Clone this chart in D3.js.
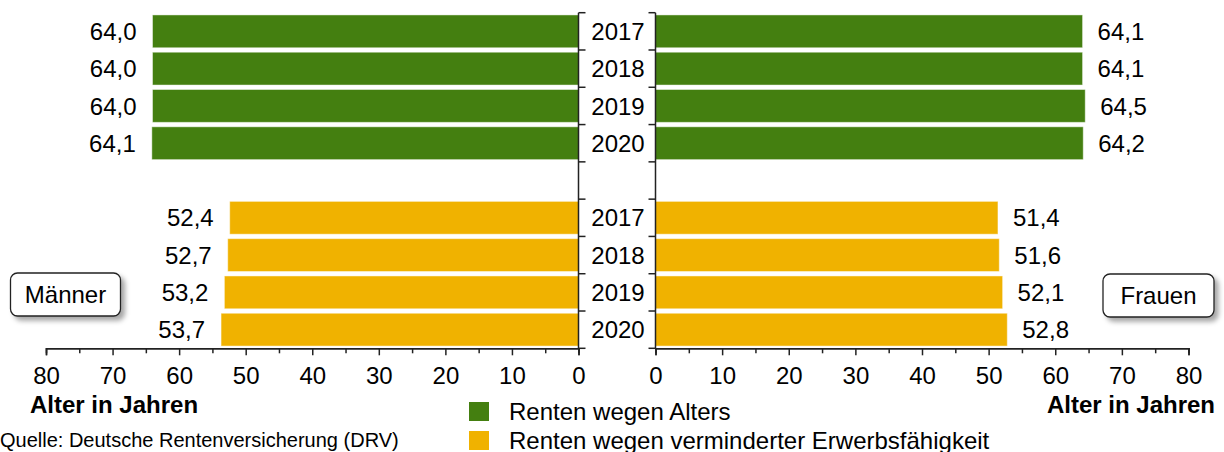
<!DOCTYPE html>
<html>
<head>
<meta charset="utf-8">
<script src="https://cdn.jsdelivr.net/npm/d3@7"></script>
<style>
  body { margin: 0; background: #fff; }
  svg { font-family: "Liberation Sans", Arial, sans-serif; }
</style>
</head>
<body>
<svg id="chart" width="1224" height="452"></svg>
<script>
// years per block
var years = ["2017", "2018", "2019", "2020"];

// men: pension because of age / reduced earning capacity
var menAlters = [64.0, 64.0, 64.0, 64.1];
var menEM = [52.4, 52.7, 53.2, 53.7];

// women
var womenAlters = [64.1, 64.1, 64.5, 64.2];
var womenEM = [51.4, 51.6, 52.1, 52.8];

var xTicks = [0, 10, 20, 30, 40, 50, 60, 70, 80];
var xMinorTicks = [5, 15, 25, 35, 45, 55, 65, 75];

var green = "#447f10";
var yellow = "#f0b200";
var fs = 24;

var svg = d3.select("#chart");

// shadow for the label boxes
var defs = svg.append("defs");
var filter = defs.append("filter").attr("id", "shadow")
  .attr("x", "-20%").attr("y", "-20%").attr("width", "150%").attr("height", "160%");
filter.append("feDropShadow").attr("dx", 4).attr("dy", 4)
  .attr("stdDeviation", 2.5).attr("flood-color", "#000").attr("flood-opacity", 0.35);

// rows: 4 green, a gap, 4 yellow
var rows = years.map(d => "A" + d).concat(["gap"]).concat(years.map(d => "E" + d));

var y = d3.scaleBand()
  .domain(rows)
  .range([12.7, 348.3])
  .paddingInner(0.12)
  .paddingOuter(0.06);

var xLeft = d3.scaleLinear().domain([80, 0]).range([46, 578.5]);
var xRight = d3.scaleLinear().domain([0, 80]).range([655.5, 1188.5]);

// build data rows
var leftData = years.map((yr, i) => ({ key: "A" + yr, value: menAlters[i], color: green }))
  .concat(years.map((yr, i) => ({ key: "E" + yr, value: menEM[i], color: yellow })));
var rightData = years.map((yr, i) => ({ key: "A" + yr, value: womenAlters[i], color: green }))
  .concat(years.map((yr, i) => ({ key: "E" + yr, value: womenEM[i], color: yellow })));

var fmt = v => v.toFixed(1).replace(".", ",");

// left bars
svg.append("g").selectAll("rect")
  .data(leftData)
  .join("rect")
  .attr("x", d => xLeft(d.value))
  .attr("y", d => y(d.key))
  .attr("width", d => xLeft(0) - xLeft(d.value))
  .attr("height", y.bandwidth())
  .attr("fill", d => d.color)
  .attr("stroke", "rgba(255,255,255,0.45)")
  .attr("stroke-width", 1);

svg.append("g").selectAll("text")
  .data(leftData)
  .join("text")
  .attr("x", d => xLeft(d.value) - 16)
  .attr("y", d => y(d.key) + y.bandwidth() / 2)
  .attr("dy", "0.36em")
  .attr("text-anchor", "end")
  .attr("font-size", fs)
  .text(d => fmt(d.value));

// right bars
svg.append("g").selectAll("rect")
  .data(rightData)
  .join("rect")
  .attr("x", xRight(0))
  .attr("y", d => y(d.key))
  .attr("width", d => xRight(d.value) - xRight(0))
  .attr("height", y.bandwidth())
  .attr("fill", d => d.color)
  .attr("stroke", "rgba(255,255,255,0.45)")
  .attr("stroke-width", 1);

svg.append("g").selectAll("text")
  .data(rightData)
  .join("text")
  .attr("x", d => xRight(d.value) + 15)
  .attr("y", d => y(d.key) + y.bandwidth() / 2)
  .attr("dy", "0.36em")
  .attr("font-size", fs)
  .text(d => fmt(d.value));

// year labels in the middle
svg.append("g").selectAll("text")
  .data(leftData)
  .join("text")
  .attr("x", (xLeft(0) + xRight(0)) / 2 + 1)
  .attr("y", d => y(d.key) + y.bandwidth() / 2)
  .attr("dy", "0.36em")
  .attr("text-anchor", "middle")
  .attr("font-size", fs)
  .text(d => d.key.slice(1));

// vertical axes with ticks at the band boundaries
var bounds = rows.map((r, i) => y.range()[0] + i * y.step());
bounds.push(y.range()[1]);

[[xLeft(0), 7], [xRight(0), -7]].forEach(function(a) {
  var g = svg.append("g").attr("stroke", "#222").attr("stroke-width", 1.5);
  g.append("line").attr("x1", a[0]).attr("x2", a[0])
    .attr("y1", bounds[0]).attr("y2", bounds[bounds.length - 1]);
  g.selectAll("line.t").data(bounds).join("line").attr("class", "t")
    .attr("x1", a[0]).attr("x2", a[0] + a[1])
    .attr("y1", d => d).attr("y2", d => d);
});

// bottom axes
function drawAxis(scale) {
  var g = svg.append("g").attr("transform", "translate(0," + y.range()[1] + ")");
  g.call(d3.axisBottom(scale).tickValues(xMinorTicks).tickSize(5).tickFormat(""));
  var g2 = svg.append("g").attr("transform", "translate(0," + y.range()[1] + ")");
  g2.call(d3.axisBottom(scale).tickValues(xTicks).tickSize(7).tickPadding(12).tickFormat(d3.format("d")));
  [g, g2].forEach(function(s) {
    s.select(".domain").attr("stroke", "#222").attr("stroke-width", 1.5);
    s.selectAll(".tick line").attr("stroke", "#222").attr("stroke-width", 1.5);
    s.selectAll(".tick text").attr("font-size", fs).attr("fill", "#000")
      .attr("font-family", "'Liberation Sans', Arial, sans-serif");
  });
}
drawAxis(xLeft);
drawAxis(xRight);

// axis titles
svg.append("text").attr("x", 30).attr("y", 413)
  .attr("font-size", 24).attr("font-weight", "bold").text("Alter in Jahren");
svg.append("text").attr("x", 1215).attr("y", 413).attr("text-anchor", "end")
  .attr("font-size", 24).attr("font-weight", "bold").text("Alter in Jahren");

// source
svg.append("text").attr("x", 0).attr("y", 447)
  .attr("font-size", 20).text("Quelle: Deutsche Rentenversicherung (DRV)");

// legend
var legend = [
  { label: "Renten wegen Alters", color: green },
  { label: "Renten wegen verminderter Erwerbsfähigkeit", color: yellow }
];
var lg = svg.append("g").selectAll("g").data(legend).join("g")
  .attr("transform", (d, i) => "translate(469," + (402 + i * 29) + ")");
lg.append("rect").attr("width", 20).attr("height", 19).attr("fill", d => d.color);
lg.append("text").attr("x", 40).attr("y", 17.5).attr("font-size", 24).text(d => d.label);

// label boxes
function labelBox(x, yy, w, h, txt) {
  svg.append("rect").attr("x", x).attr("y", yy).attr("width", w).attr("height", h)
    .attr("rx", 7).attr("fill", "#fff").attr("stroke", "#222").attr("stroke-width", 1.3)
    .attr("filter", "url(#shadow)");
  svg.append("text").attr("x", x + w / 2).attr("y", yy + h / 2).attr("dy", "0.36em")
    .attr("text-anchor", "middle").attr("font-size", 24).text(txt);
}
labelBox(10.5, 273, 110, 43, "Männer");
labelBox(1103, 274, 111, 43, "Frauen");
</script>
</body>
</html>
